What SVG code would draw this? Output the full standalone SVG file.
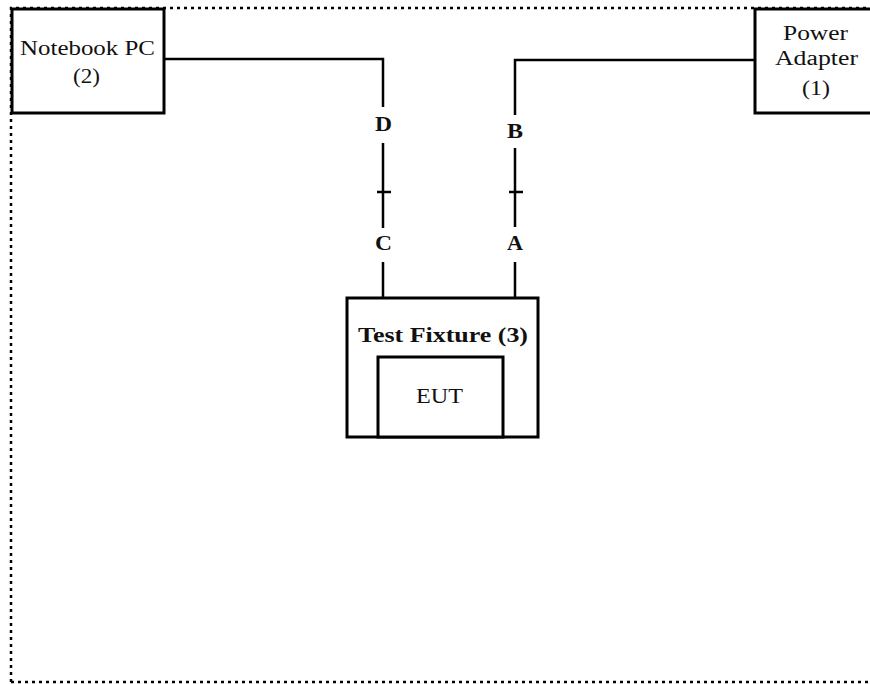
<svg xmlns="http://www.w3.org/2000/svg" width="870" height="684" viewBox="0 0 870 684">
<style>
.box{fill:#fff;stroke:#000;stroke-width:3}
.ln{fill:none;stroke:#000;stroke-width:2.5}
.t{font-family:"Liberation Serif","Times New Roman",serif;font-size:20px;fill:#111}
.b{font-weight:bold}
.dot{fill:none;stroke:#000;stroke-width:2.5;stroke-dasharray:3 4}
</style>
<rect width="870" height="684" fill="#fff"/>
<path class="dot" d="M11 682 V8 H870 M11 682 H870"/>
<g id="connectors">
<path class="ln" d="M164 59 H383 V107 M383 143 V228 M377 192 H391 M383 262 V298"/>
<path class="ln" d="M755 60 H515 V115 M515 148 V227 M509 192 H523 M515 262 V298"/>
<text class="t b" x="375" y="131" textLength="17" lengthAdjust="spacingAndGlyphs">D</text>
<text class="t b" x="375" y="250" textLength="17" lengthAdjust="spacingAndGlyphs">C</text>
<text class="t b" x="507" y="138" textLength="16" lengthAdjust="spacingAndGlyphs">B</text>
<text class="t b" x="507" y="250" textLength="16" lengthAdjust="spacingAndGlyphs">A</text>
</g>
<g id="notebook">
<rect class="box" x="12" y="9" width="152" height="104"/>
<text class="t" x="20" y="55" textLength="135" lengthAdjust="spacingAndGlyphs">Notebook PC</text>
<text class="t" x="73" y="83" textLength="27" lengthAdjust="spacingAndGlyphs">(2)</text>
</g>
<g id="power">
<rect class="box" x="755" y="9" width="125" height="104"/>
<text class="t" x="783" y="40" textLength="65" lengthAdjust="spacingAndGlyphs">Power</text>
<text class="t" x="775" y="65" textLength="83" lengthAdjust="spacingAndGlyphs">Adapter</text>
<text class="t" x="802" y="95" textLength="28" lengthAdjust="spacingAndGlyphs">(1)</text>
</g>
<g id="fixture">
<rect class="box" x="347" y="298" width="191" height="139"/>
<text class="t b" x="358" y="342" textLength="170" lengthAdjust="spacingAndGlyphs">Test Fixture (3)</text>
</g>
<g id="eut">
<rect class="box" x="378" y="357" width="125" height="80"/>
<text class="t" x="416" y="403" textLength="47" lengthAdjust="spacingAndGlyphs">EUT</text>
</g>
</svg>
